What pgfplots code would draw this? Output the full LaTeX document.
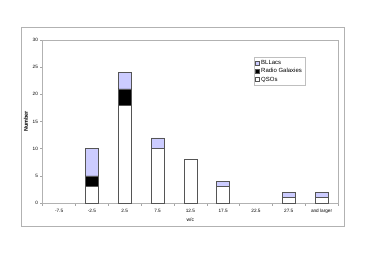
\documentclass[border=0pt]{standalone}
\usepackage{pgfplots}
\pgfplotsset{compat=1.18}
\usepackage{fontspec}
\setmainfont{Liberation Sans}
\definecolor{bll}{HTML}{CCCCFF}
\definecolor{edge}{HTML}{555555}
\begin{document}
\fontsize{4.7}{5}\selectfont
\begin{tikzpicture}
\path (-42.7pt,-52pt) rectangle (323.3pt,203pt);
\draw[gray!60, line width=0.5pt] (-21.7pt,-23.5pt) rectangle (301.3pt,175.5pt);
\begin{axis}[
  at={(0pt,0pt)}, anchor=south west,
  scale only axis, width=295.3pt, height=163pt,
  xmin=-0.5, xmax=8.5, ymin=0, ymax=30,
  ybar stacked, bar width=13pt,
  xtick={0,...,8},
  xticklabels={-7.5,-2.5,2.5,7.5,12.5,17.5,22.5,27.5,and larger},
  minor xtick={-0.5,0.5,...,8.5},
  ytick={0,5,...,30},
  tick style={gray!70, line width=0.4pt},
  major x tick style={draw=none},
  minor tick length=2.5pt,
  major tick length=2.5pt,
  xtick pos=bottom, ytick pos=left,
  tick align=outside,
  axis line style={gray!60, line width=0.5pt},
  every tick label/.append style={font=\fontsize{4.7}{5}\selectfont, text=black},
  xticklabel style={yshift=-1.5pt},
  yticklabel style={xshift=-0.5pt},
  /pgf/number format/assume math mode=true,
  xlabel={w/c}, ylabel={\bfseries Number},
  xlabel style={font=\fontsize{5}{5}\selectfont, at={(0.5,0)}, anchor=center, yshift=-17pt},
  ylabel style={font=\fontsize{5.5}{6}\selectfont, yshift=1.5pt},
  legend style={at={(0.714,0.896)}, anchor=north west, draw=gray!50, line width=0.3pt,
    font=\fontsize{6}{6.5}\selectfont, inner sep=1.2pt, row sep=-0.5pt,
    cells={anchor=west}},
  legend image code/.code={\draw[#1, line width=0.3pt] (0pt,-2pt) rectangle (4pt,2pt);},
  reverse legend,
]
\addplot[fill=white, draw=edge, line width=0.5pt] coordinates {(0,0) (1,3) (2,18) (3,10) (4,8) (5,3) (6,0) (7,1) (8,1)};
\addlegendentry{QSOs}
\addplot[fill=black, draw=edge, line width=0.5pt] coordinates {(0,0) (1,2) (2,3) (3,0) (4,0) (5,0) (6,0) (7,0) (8,0)};
\addlegendentry{Radio Galaxies}
\addplot[fill=bll, draw=edge, line width=0.5pt] coordinates {(0,0) (1,5) (2,3) (3,2) (4,0) (5,1) (6,0) (7,1) (8,1)};
\addlegendentry{BLLacs}
\end{axis}
\end{tikzpicture}
\end{document}
